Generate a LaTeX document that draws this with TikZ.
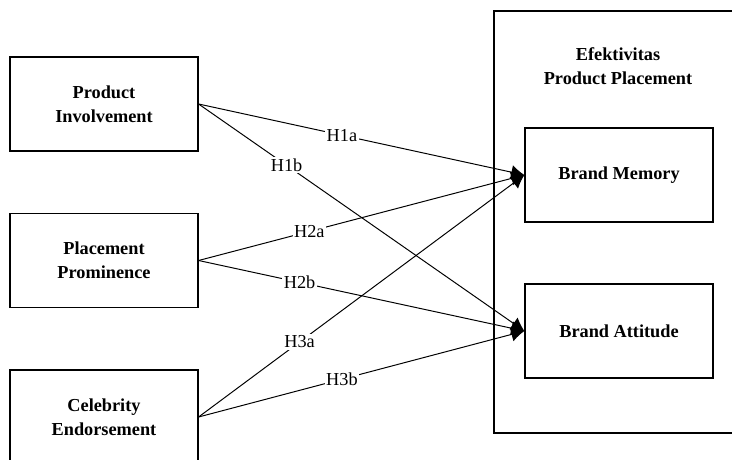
\documentclass[tikz,border=0pt]{standalone}
\usepackage{fontspec}
\setmainfont{Liberation Serif}
\usetikzlibrary{arrows.meta}

\tikzset{
	varbox/.style={draw, line width=0.8pt, minimum width=4.7cm, minimum height=2.35cm, align=center, font=\fontsize{13}{17}\selectfont\bfseries},
	groupbox/.style={draw, line width=0.8pt, minimum width=6.2cm, minimum height=10.55cm},
	hyp/.style={line width=0.7pt, -{Latex[length=3.3mm, width=3.6mm]}},
	hlabel/.style={fill=white, inner sep=1pt, font=\fontsize{13}{15}\selectfont}
}

\begin{document}
\begin{tikzpicture}[x=0.025cm, y=-0.025cm]
	\clip (0,0) rectangle (732,460);
	\fill[white] (0,0) rectangle (732,460);

	\node[groupbox] (efek) at (618,222) {};
	\node[align=center, font=\fontsize{13}{17}\selectfont\bfseries] (efektitle) at (618,66) {Efektivitas\\Product Placement};

	\node[varbox] (inv) at (104,104) {Product\\Involvement};
	\node[varbox] (prom) at (104,260.5) {Placement\\Prominence};
	\node[varbox] (celeb) at (104,417) {Celebrity\\Endorsement};

	\node[varbox] (memory) at (619,175) {Brand Memory};
	\node[varbox] (attitude) at (619,331) {Brand Attitude};

	\draw[hyp] (inv.east) -- node[hlabel, pos=0.44] {H1a} (memory.west);
	\draw[hyp] (inv.east) -- node[hlabel, pos=0.27] {H1b} (attitude.west);
	\draw[hyp] (prom.east) -- node[hlabel, pos=0.34] {H2a} (memory.west);
	\draw[hyp] (prom.east) -- node[hlabel, pos=0.31] {H2b} (attitude.west);
	\draw[hyp] (celeb.east) -- node[hlabel, pos=0.31] {H3a} (memory.west);
	\draw[hyp] (celeb.east) -- node[hlabel, pos=0.44] {H3b} (attitude.west);
\end{tikzpicture}
\end{document}
